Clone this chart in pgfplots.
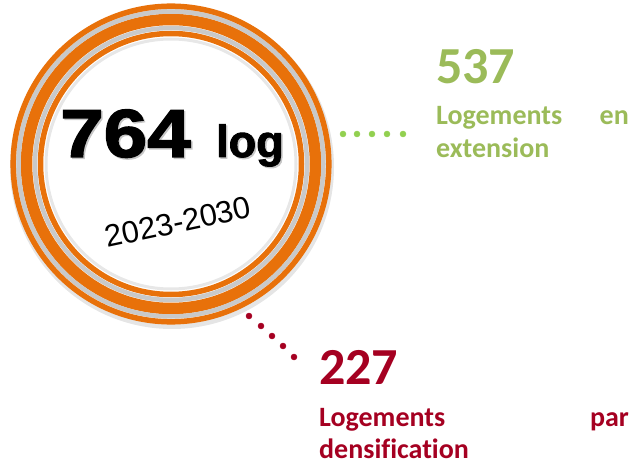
\documentclass[border=0pt]{standalone}
\usepackage{pgfplots}
\pgfplotsset{compat=1.18}
\usepackage{fontspec}
\setmainfont{Liberation Sans}
\newfontfamily\calfont[Ligatures=NoCommon]{Carlito}
\newfontfamily\blackfont[FakeBold=2]{Liberation Sans Bold}
\definecolor{ringorange}{HTML}{E8710A}
\definecolor{ringgray}{HTML}{C9C9C9}
\definecolor{txtgreen}{HTML}{9BBB59}
\definecolor{dotgreen}{HTML}{92D050}
\definecolor{txtred}{HTML}{A50021}
\begin{document}
\begin{tikzpicture}
\begin{axis}[
  width=632pt, height=465pt, scale only axis,
  xmin=0, xmax=632, ymin=0, ymax=465, y dir=reverse,
  hide axis, clip=false, at={(0,0)}, anchor=south west]
% soft shadow under rings
\draw[line width=8pt, black!10] (axis cs:172,167) circle[radius=158pt];
% rings
\draw[line width=3pt, ringgray!45] (axis cs:171,164) circle[radius=125pt];
\draw[line width=5.5pt, ringorange] (axis cs:171,164) circle[radius=130.5pt];
\draw[line width=4.5pt, ringgray] (axis cs:171,164) circle[radius=136pt];
\draw[line width=11.5pt, ringorange] (axis cs:171,164) circle[radius=144.5pt];
\draw[line width=4.5pt, ringgray] (axis cs:171,164) circle[radius=152.5pt];
\draw[line width=5.5pt, ringorange] (axis cs:171,164) circle[radius=157.8pt];
% dots
\addplot[only marks, mark=*, mark size=3pt, color=dotgreen] coordinates {
 (343,134) (357,134) (372,134) (387,134) (403,134)};
\addplot[only marks, mark=*, mark size=3pt, color=txtred] coordinates {
 (249,316) (261,326) (272,336) (283,346) (294,357)};
% central text with light shadow
\node[anchor=base west, inner sep=0, text=black!22] at (axis cs:61.5,158.5)
  {\blackfont\fontsize{68}{68}\selectfont\scalebox{1.15}[1]{764}};
\node[anchor=base west, inner sep=0] at (axis cs:60,157)
  {\blackfont\fontsize{68}{68}\selectfont\scalebox{1.15}[1]{764}};
\node[anchor=base west, inner sep=0, text=black!22] at (axis cs:217.5,158.5)
  {\blackfont\fontsize{45}{45}\selectfont log};
\node[anchor=base west, inner sep=0] at (axis cs:216,157)
  {\blackfont\fontsize{45}{45}\selectfont log};
\node[anchor=center, inner sep=0, rotate=12] at (axis cs:178,222)
  {\fontsize{31}{31}\selectfont 2023-2030};
% green block
\node[anchor=base west, inner sep=0, text=txtgreen] at (axis cs:436,84)
  {\calfont\fontsize{52}{52}\selectfont\bfseries 537};
\node[anchor=base west, inner sep=0, text=txtgreen] at (axis cs:436,125)
  {\calfont\fontsize{28}{28}\selectfont\bfseries Logements};
\node[anchor=base east, inner sep=0, text=txtgreen] at (axis cs:629,125)
  {\calfont\fontsize{28}{28}\selectfont\bfseries en};
\node[anchor=base west, inner sep=0, text=txtgreen] at (axis cs:436,158)
  {\calfont\fontsize{28}{28}\selectfont\bfseries extension};
% red block
\node[anchor=base west, inner sep=0, text=txtred] at (axis cs:319,384)
  {\calfont\fontsize{52}{52}\selectfont\bfseries 227};
\node[anchor=base west, inner sep=0, text=txtred] at (axis cs:319,426)
  {\calfont\fontsize{28}{28}\selectfont\bfseries Logements};
\node[anchor=base east, inner sep=0, text=txtred] at (axis cs:629,426)
  {\calfont\fontsize{28}{28}\selectfont\bfseries par};
\node[anchor=base west, inner sep=0, text=txtred] at (axis cs:319,458)
  {\calfont\fontsize{28}{28}\selectfont\bfseries densification};
\end{axis}
\pgfresetboundingbox
\path (current axis.south west) rectangle (current axis.north east);
\end{tikzpicture}
\end{document}
